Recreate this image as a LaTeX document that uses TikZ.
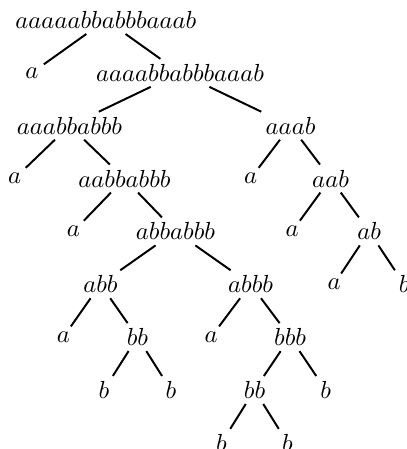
\documentclass[tikz,border=0pt]{standalone}
\usepackage{tikz}

\begin{document}
\begin{tikzpicture}
  [level distance=21.4pt,
   every node/.style={inner sep=2pt},
   edge from parent/.style={draw,thick}]
  \useasboundingbox (-42.9pt,8.1pt) rectangle (121.5pt,-173.7pt);
  \node (w) {$aaaaabbabbbaaab$}
      child[sibling distance=60pt] {node (wa) {$a$}}
      child[sibling distance=60pt] {node (wb) {$aaaabbabbbaaab$}
        child[sibling distance=89.5pt] {node (wba) {$aaabbabbb$}
          child[sibling distance=44.5pt] {node (wbaa) {$a$}}
          child[sibling distance=44.5pt] {node (wbab) {$aabbabbb$}
            child[sibling distance=41.3pt] {node (wbaba) {$a$}}
            child[sibling distance=41.3pt] {node (wbabb) {$abbabbb$}
              child[sibling distance=60.8pt] {node (x) {$abb$}
                child[sibling distance=30pt] {node (xa) {$a$}}
                child[sibling distance=30pt] {node (xb) {$bb$}
                  child[sibling distance=27.1pt] {node (xba) {$b$}}
                  child[sibling distance=27.1pt] {node (xbb) {$b$}}
                }
              }
              child[sibling distance=60.8pt] {node (y) {$abbb$}
                child[sibling distance=32pt] {node (ya) {$a$}}
                child[sibling distance=32pt] {node (yb) {$bbb$}
                  child[sibling distance=28.8pt] {node (yba) {$bb$}
                    child[sibling distance=26.7pt] {node (ybaa) {$b$}}
                    child[sibling distance=26.7pt] {node (ybab) {$b$}}
                  }
                  child[sibling distance=28.8pt] {node (ybb) {$b$}}
                }
              }
            }
          }
        }
        child[sibling distance=89.5pt] {node (wbb) {$aaab$}
          child[sibling distance=32.4pt] {node (wbba) {$a$}}
          child[sibling distance=32.4pt] {node (wbbb) {$aab$}
            child[sibling distance=31.2pt] {node (wbbba) {$a$}}
            child[sibling distance=31.2pt] {node (wbbbb) {$ab$}
              child[sibling distance=28.4pt] {node (wbbbba) {$a$}}
              child[sibling distance=28.4pt] {node (wbbbbb) {$b$}}
            }
          }
        }
      };
\end{tikzpicture}
\end{document}
